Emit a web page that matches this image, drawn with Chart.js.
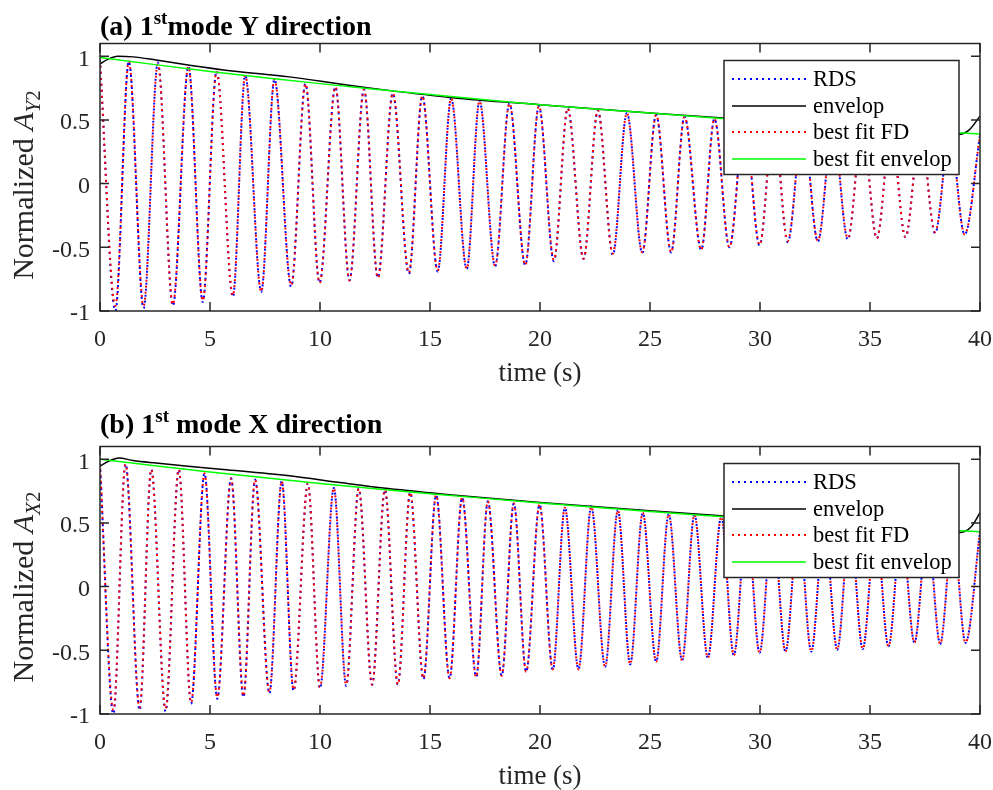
<!DOCTYPE html>
<html>
<head>
<meta charset="utf-8">
<script src="https://cdn.jsdelivr.net/npm/chart.js@4.4.1/dist/chart.umd.min.js"></script>
<style>
html,body{margin:0;padding:0;background:#fff;}
#wrap{position:relative;width:993px;height:790px;overflow:hidden;font-family:"Liberation Serif","Times New Roman",serif;color:#262626;}
.box{position:absolute;left:0;width:993px;height:390px;}
.ttl{position:absolute;left:100px;font-weight:bold;font-size:28px;line-height:28px;white-space:nowrap;color:#000;}
.ttl sup{font-size:19px;vertical-align:11px;line-height:0;}
.ylab{position:absolute;font-size:30px;line-height:normal;white-space:nowrap;transform:translate(-50%,-50%) rotate(-90deg);}
.ylab sub{font-size:21px;vertical-align:-7px;line-height:0;}
</style>
</head>
<body>
<div id="wrap">
  <div class="box" style="top:0"><canvas id="chartA"></canvas></div>
  <div class="box" style="top:403px"><canvas id="chartB"></canvas></div>
  <div class="ttl" style="top:12px">(a) 1<sup>st</sup>mode Y direction</div>
  <div class="ttl" style="top:410px">(b) 1<sup>st</sup> mode X direction</div>
  <div class="ylab" style="left:23px;top:185px">Normalized <i>A</i><sub><i>Y</i>2</sub></div>
  <div class="ylab" style="left:23px;top:587px">Normalized <i>A</i><sub><i>X</i>2</sub></div>
</div>
<script>
// tick labels
const xTicks = [0, 5, 10, 15, 20, 25, 30, 35, 40];
const yTicks = [-1, -0.5, 0, 0.5, 1];

// (a) Y direction - peaks / troughs
const aTime = [0, 0.70, 1.31, 1.98, 2.63, 3.31, 4.02, 4.67, 5.30, 6.04,
  6.60, 7.33, 7.93, 8.69, 9.34, 9.98, 10.70, 11.34, 12.00, 12.63,
  13.31, 14.04, 14.65, 15.35, 15.96, 16.67, 17.25, 17.96, 18.61, 19.33,
  19.95, 20.63, 21.26, 21.98, 22.63, 23.31, 23.95, 24.65, 25.28, 25.96,
  26.57, 27.33, 27.93, 28.61, 29.30, 29.98, 30.62, 31.26, 31.95, 32.63,
  33.31, 33.99, 34.65, 35.31, 35.96, 36.61, 37.29, 37.96, 38.63, 39.30,
  40];
const aRds = [0.97, -1.00, 0.96, -0.98, 0.95, -0.96, 0.92, -0.93, 0.885, -0.89,
  0.85, -0.85, 0.82, -0.81, 0.785, -0.78, 0.76, -0.76, 0.74, -0.74,
  0.71, -0.71, 0.69, -0.69, 0.67, -0.67, 0.65, -0.65, 0.63, -0.64,
  0.61, -0.61, 0.59, -0.59, 0.575, -0.56, 0.555, -0.545, 0.54, -0.54,
  0.525, -0.52, 0.51, -0.50, 0.49, -0.485, 0.48, -0.46, 0.465, -0.455,
  0.45, -0.44, 0.435, -0.43, 0.42, -0.42, 0.41, -0.39, 0.40, -0.40,
  0.38];
const aFd = [0.96, -0.96, 0.96, -0.96, 0.94, -0.95, 0.92, -0.92, 0.88, -0.88,
  0.85, -0.85, 0.82, -0.80, 0.785, -0.78, 0.76, -0.76, 0.74, -0.74,
  0.71, -0.70, 0.69, -0.685, 0.67, -0.67, 0.65, -0.645, 0.63, -0.64,
  0.61, -0.60, 0.59, -0.59, 0.575, -0.55, 0.555, -0.54, 0.54, -0.54,
  0.525, -0.52, 0.51, -0.50, 0.49, -0.48, 0.48, -0.45, 0.465, -0.45,
  0.45, -0.43, 0.435, -0.43, 0.42, -0.42, 0.41, -0.38, 0.40, -0.40,
  0.38];
const aEnvTime = [0, 0.35, 0.8, 1.5, 2.55, 4.07, 6, 8.6, 11, 13.1, 16, 20, 25, 30, 35, 38.2, 39.0, 39.5, 40];
const aEnv = [0.94, 0.975, 1.0, 0.995, 0.97, 0.93, 0.885, 0.838, 0.78, 0.732, 0.675, 0.62, 0.555, 0.495, 0.44, 0.41, 0.385, 0.42, 0.53];
const aFitTime = [0, 5, 10, 15, 20, 25, 30, 35, 40];
const aFit = [0.99, 0.88, 0.785, 0.70, 0.62, 0.555, 0.49, 0.44, 0.39];

// (b) X direction
const bTime = [0, 0.61, 1.16, 1.80, 2.33, 2.98, 3.58, 4.14, 4.75, 5.33,
  5.96, 6.52, 7.05, 7.70, 8.26, 8.80, 9.45, 10.00, 10.63, 11.19,
  11.76, 12.37, 12.95, 13.54, 14.10, 14.70, 15.28, 15.89, 16.46, 17.10,
  17.63, 18.26, 18.81, 19.37, 19.98, 20.58, 21.13, 21.75, 22.33, 22.96,
  23.54, 24.10, 24.67, 25.28, 25.85, 26.46, 27.02, 27.63, 28.24, 28.81,
  29.40, 29.98, 30.57, 31.16, 31.75, 32.33, 32.92, 33.51, 34.09, 34.67,
  35.26, 35.84, 36.43, 37.02, 37.61, 38.19, 38.77, 39.34, 40];
const bRds = [0.96, -1.00, 0.965, -0.97, 0.92, -0.98, 0.92, -0.92, 0.89, -0.88,
  0.85, -0.87, 0.84, -0.84, 0.83, -0.82, 0.81, -0.80, 0.775, -0.78,
  0.77, -0.77, 0.76, -0.77, 0.74, -0.73, 0.72, -0.72, 0.70, -0.71,
  0.67, -0.70, 0.655, -0.67, 0.645, -0.655, 0.62, -0.65, 0.63, -0.63,
  0.60, -0.61, 0.58, -0.59, 0.57, -0.58, 0.565, -0.56, 0.55, -0.54,
  0.535, -0.52, 0.525, -0.51, 0.51, -0.51, 0.50, -0.495, 0.49, -0.49,
  0.475, -0.47, 0.465, -0.44, 0.455, -0.45, 0.445, -0.44, 0.43];
const bFd = [0.96, -0.97, 0.96, -0.95, 0.92, -0.96, 0.92, -0.91, 0.89, -0.87,
  0.85, -0.86, 0.84, -0.83, 0.83, -0.81, 0.81, -0.79, 0.775, -0.77,
  0.77, -0.77, 0.76, -0.77, 0.74, -0.72, 0.72, -0.72, 0.70, -0.71,
  0.67, -0.70, 0.655, -0.67, 0.645, -0.65, 0.62, -0.65, 0.63, -0.63,
  0.60, -0.61, 0.58, -0.59, 0.57, -0.58, 0.565, -0.56, 0.55, -0.54,
  0.535, -0.52, 0.525, -0.51, 0.51, -0.51, 0.50, -0.495, 0.49, -0.49,
  0.475, -0.47, 0.465, -0.44, 0.455, -0.45, 0.445, -0.44, 0.43];
const bEnvTime = [0, 0.4, 0.86, 1.5, 2.55, 4, 5.6, 8.6, 11, 13.1, 16, 20, 25, 30, 35, 38.3, 39.1, 39.6, 40];
const bEnv = [0.945, 0.985, 1.01, 0.99, 0.97, 0.945, 0.92, 0.87, 0.815, 0.77, 0.72, 0.66, 0.595, 0.535, 0.48, 0.45, 0.425, 0.47, 0.58];
const bFitTime = [0, 5, 10, 15, 20, 25, 30, 35, 40];
const bFit = [1.0, 0.90, 0.81, 0.73, 0.657, 0.59, 0.53, 0.48, 0.43];

const FONT = '"Liberation Serif", "Times New Roman", serif';
const AXIS = '#262626';

function pts(t, v){ return t.map((x, i) => ({x: x, y: v[i]})); }

// axes box with inward ticks on all four sides
const framePlugin = {
  id: 'frame',
  afterDatasetsDraw(chart){
    const {ctx, chartArea: a, scales: {x, y}} = chart;
    ctx.save();
    ctx.strokeStyle = AXIS;
    ctx.lineWidth = 1.5;
    ctx.strokeRect(a.left, a.top, a.right - a.left, a.bottom - a.top);
    ctx.beginPath();
    x.ticks.forEach(t => {
      const p = x.getPixelForValue(t.value);
      ctx.moveTo(p, a.bottom); ctx.lineTo(p, a.bottom - 9);
      ctx.moveTo(p, a.top); ctx.lineTo(p, a.top + 9);
    });
    y.ticks.forEach(t => {
      const p = y.getPixelForValue(t.value);
      ctx.moveTo(a.left, p); ctx.lineTo(a.left + 9, p);
      ctx.moveTo(a.right, p); ctx.lineTo(a.right - 9, p);
    });
    ctx.stroke();
    ctx.restore();
  }
};

// boxed legend inside the plot, top right (white background like matlab)
const boxLegend = {
  id: 'boxLegend',
  afterDraw(chart){
    const {ctx, chartArea: a} = chart;
    const L = a.right - 256, T = a.top + 17, W = 235, H = 114;
    ctx.save();
    ctx.fillStyle = '#fff';
    ctx.fillRect(L, T, W, H);
    ctx.strokeStyle = AXIS;
    ctx.lineWidth = 1.5;
    ctx.strokeRect(L, T, W, H);
    ctx.font = '22.5px ' + FONT;
    ctx.textBaseline = 'middle';
    chart.data.datasets.forEach((ds, i) => {
      const yy = Math.round(T + 18.5 + i * 26.5);
      ctx.beginPath();
      ctx.strokeStyle = ds.borderColor;
      ctx.lineWidth = ds.borderDash ? ds.borderWidth : 1.5;
      ctx.setLineDash(ds.borderDash || []);
      ctx.moveTo(L + 8, yy);
      ctx.lineTo(L + 82, yy);
      ctx.stroke();
      ctx.setLineDash([]);
      ctx.fillStyle = '#000';
      ctx.fillText(ds.label, L + 89, yy + 1);
    });
    ctx.restore();
  }
};

function makeChart(id, time, rds, fd, envT, env, fitT, fit){
  return new Chart(document.getElementById(id), {
    type: 'line',
    data: {
      datasets: [
        {label: 'RDS', data: pts(time, rds), borderColor: '#0000ff', borderWidth: 2,
          borderDash: [2, 4], cubicInterpolationMode: 'monotone', order: 4},
        {label: 'envelop', data: pts(envT, env), borderColor: '#000000', borderWidth: 1.5,
          cubicInterpolationMode: 'monotone', order: 3},
        {label: 'best fit FD', data: pts(time, fd), borderColor: '#ff0000', borderWidth: 2,
          borderDash: [2, 4], borderDashOffset: 1.5, cubicInterpolationMode: 'monotone', order: 2},
        {label: 'best fit envelop', data: pts(fitT, fit), borderColor: '#00ff00', borderWidth: 1.5,
          tension: 0.3, order: 1}
      ]
    },
    options: {
      responsive: true,
      maintainAspectRatio: false,
      animation: false,
      elements: {point: {radius: 0}},
      layout: {padding: {top: 43.5, right: 1, left: 0, bottom: 0}},
      plugins: {legend: {display: false}, tooltip: {enabled: false}, title: {display: false}},
      scales: {
        x: {
          type: 'linear', min: 0, max: 40,
          grid: {display: false, drawTicks: false},
          border: {display: false},
          afterBuildTicks: s => { s.ticks = xTicks.map(v => ({value: v})); },
          afterFit: s => { s.height = 79; s.paddingRight = 13; s.paddingLeft = 0; },
          ticks: {font: {family: FONT, size: 24}, color: AXIS, padding: 14,
            maxRotation: 0, autoSkip: false, callback: v => String(v)},
          title: {display: true, text: 'time (s)', font: {family: FONT, size: 27},
            color: AXIS, padding: {top: 0, bottom: 0}}
        },
        y: {
          type: 'linear', min: -1, max: 1.1,
          grid: {display: false, drawTicks: false},
          border: {display: false},
          afterBuildTicks: s => { s.ticks = yTicks.map(v => ({value: v})); },
          afterFit: s => { s.width = 100; },
          ticks: {font: {family: FONT, size: 24}, color: AXIS, padding: 10, labelOffset: 3,
            autoSkip: false, callback: v => String(v)}
        }
      }
    },
    plugins: [framePlugin, boxLegend]
  });
}

makeChart('chartA', aTime, aRds, aFd, aEnvTime, aEnv, aFitTime, aFit);
makeChart('chartB', bTime, bRds, bFd, bEnvTime, bEnv, bFitTime, bFit);
</script>
</body>
</html>
